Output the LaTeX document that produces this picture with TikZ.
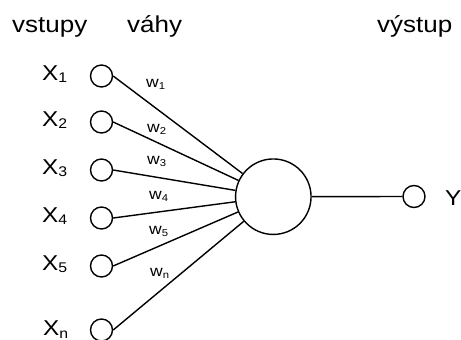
\documentclass[tikz,border=0pt]{standalone}
\usepackage{fontspec}
\setmainfont{Liberation Sans}[FakeStretch=1.13]
\newcommand{\xsub}[1]{\raisebox{-2.5pt}{\fontsize{14}{14}\selectfont #1}}
\newcommand{\wsub}[1]{\raisebox{-2pt}{\fontsize{10}{10}\selectfont #1}}
\tikzset{
  inp/.style={circle, draw, line width=1.4pt, minimum size=22pt, inner sep=0pt},
  neuron/.style={circle, draw, line width=1.4pt, minimum size=75.5pt, inner sep=0pt},
  conn/.style={line width=1.4pt},
  head/.style={inner sep=0pt, anchor=base west, font=\fontsize{23}{23}\selectfont},
  xlbl/.style={inner sep=0pt, anchor=base west, font=\fontsize{21.5}{21.5}\selectfont},
  wlbl/.style={inner sep=0pt, anchor=base west, font=\fontsize{15.5}{15.5}\selectfont}
}
\begin{document}
\begin{tikzpicture}[x=1pt,y=-1pt]
\useasboundingbox (0,0) rectangle (461,340);
% headers
\node[head] (h1) at (12,32) {vstupy};
\node[head] (h2) at (127,32) {váhy};
\node[head] (h3) at (377,32) {výstup};
% input circles
\node[inp] (x1) at (101.5,76) {};
\node[inp] (x2) at (101.5,122) {};
\node[inp] (x3) at (101.5,170) {};
\node[inp] (x4) at (101.5,218) {};
\node[inp] (x5) at (101.5,266) {};
\node[inp] (xn) at (101.5,330) {};
% input labels
\node[xlbl] (l1) at (42,80) {X\xsub{1}};
\node[xlbl] (l2) at (42,126) {X\xsub{2}};
\node[xlbl] (l3) at (42,174) {X\xsub{3}};
\node[xlbl] (l4) at (42,222) {X\xsub{4}};
\node[xlbl] (l5) at (42,270) {X\xsub{5}};
\node[xlbl] (ln) at (43,335.5) {X\xsub{n}};
% neuron and output
\node[neuron] (n) at (273.3,196.7) {};
\node[inp] (y) at (414,196.5) {};
\node[xlbl] (yl) at (445,205) {Y};
% connectors
\draw[conn] (x1.east) -- (n);
\draw[conn] (x2.east) -- (n);
\draw[conn] (x3.east) -- (n);
\draw[conn] (x4.east) -- (n);
\draw[conn] (x5.east) -- (n);
\draw[conn] (xn.east) -- (n);
\draw[conn] (n) -- (y);
% weights
\node[wlbl] (w1) at (146,87) {w\wsub{1}};
\node[wlbl] (w2) at (147,132) {w\wsub{2}};
\node[wlbl] (w3) at (147,164) {w\wsub{3}};
\node[wlbl] (w4) at (149,199) {w\wsub{4}};
\node[wlbl] (w5) at (149,234) {w\wsub{5}};
\node[wlbl] (wn) at (150,276) {w\wsub{n}};
\end{tikzpicture}
\end{document}
